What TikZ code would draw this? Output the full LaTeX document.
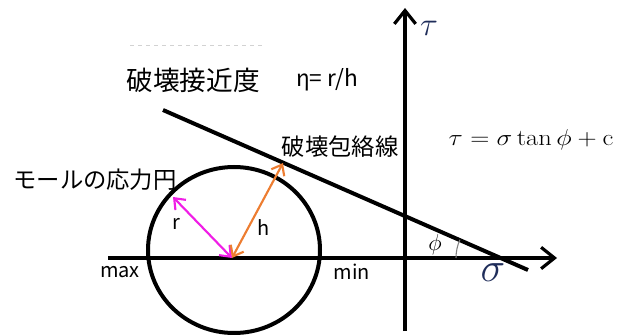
\documentclass[tikz,border=0pt]{standalone}
\usepackage{fontspec}
\usepackage{amsmath}
\usepackage{graphicx}
\usetikzlibrary{arrows.meta}
\newfontfamily\jpfont{Noto Sans CJK JP}
\definecolor{radiuscolor}{RGB}{240, 30, 230}
\definecolor{distcolor}{RGB}{237, 125, 49}
\definecolor{sigmacolor}{RGB}{31, 45, 90}

\begin{document}
\begin{tikzpicture}[x=0.75pt, y=-0.75pt,
    axisline/.style={line width=3.2pt, -{Straight Barb[length=10pt, width=16pt, line width=2.4pt]}},
    thickline/.style={line width=3pt},
    dimarrow/.style={line width=1.6pt, {Straight Barb[length=7pt, width=11pt]}-{Straight Barb[length=7pt, width=11pt]}},
    jplabel/.style={font=\jpfont\fontsize{17.5}{20}\selectfont, inner sep=0pt},
    smalllabel/.style={font=\jpfont\fontsize{15}{18}\selectfont, inner sep=0pt}]
    \useasboundingbox (0,0) rectangle (618,335);

    % Faint dashes
    \draw[gray!35, dashed, line width=0.6pt] (130,45) -- (263,45);

    % Axes
    \coordinate (sstart) at (108,258);
    \coordinate (send) at (557,258);
    \coordinate (tstart) at (405,331);
    \coordinate (tend) at (405,8);
    \draw[axisline] (sstart) -- (send);
    \draw[axisline] (tstart) -- (tend);

    % Mohr circle
    \coordinate (ctr) at (232,258);
    \draw[thickline] (234,250) ellipse (86 and 83);

    % Failure envelope
    \coordinate (env1) at (163,110);
    \coordinate (env2) at (528,270);
    \draw[thickline] (env1) -- (env2);

    % Friction angle
    \draw[gray, line width=0.8pt] (456,258) arc (180:204:45);

    % r and h
    \coordinate (rend) at (173,197);
    \coordinate (hend) at (283,163);
    \draw[dimarrow, radiuscolor] (ctr) -- (rend);
    \draw[dimarrow, distcolor] (ctr) -- (hend);

    % Labels
    \node[smalllabel] (rlabel) at (176,224) {r};
    \node[smalllabel] (hlabel) at (264,228) {h};
    \node[smalllabel] (maxlabel) at (120,272) {max};
    \node[smalllabel] (minlabel) at (352,272) {min};
    \node[font=\LARGE, inner sep=0pt] (philabel) at (435,245) {$\phi$};
    \node[font=\Huge, inner sep=0pt, sigmacolor] (sigmalabel) at (493,273) {\scalebox{1.25}{$\sigma$}};
    \node[font=\Huge, inner sep=0pt, sigmacolor] (taulabel) at (429,28) {$\tau$};
    \node[font=\LARGE, inner sep=0pt] (eqlabel) at (531,140) {\scalebox{1.15}[1]{$\tau = \sigma\tan\phi + \mathrm{c}$}};
    \node[jplabel] (envlabel) at (340,147) {破壊包絡線};
    \node[jplabel] (mohrlabel) at (95,180) {モールの応力円};
    \node[jplabel, font=\jpfont\fontsize{20}{24}\selectfont] (etalabel) at (193,80) {破壊接近度};
    \node[smalllabel, font=\jpfont\fontsize{17}{20}\selectfont] (etaformula) at (327,80) {η= r/h};
\end{tikzpicture}
\end{document}
